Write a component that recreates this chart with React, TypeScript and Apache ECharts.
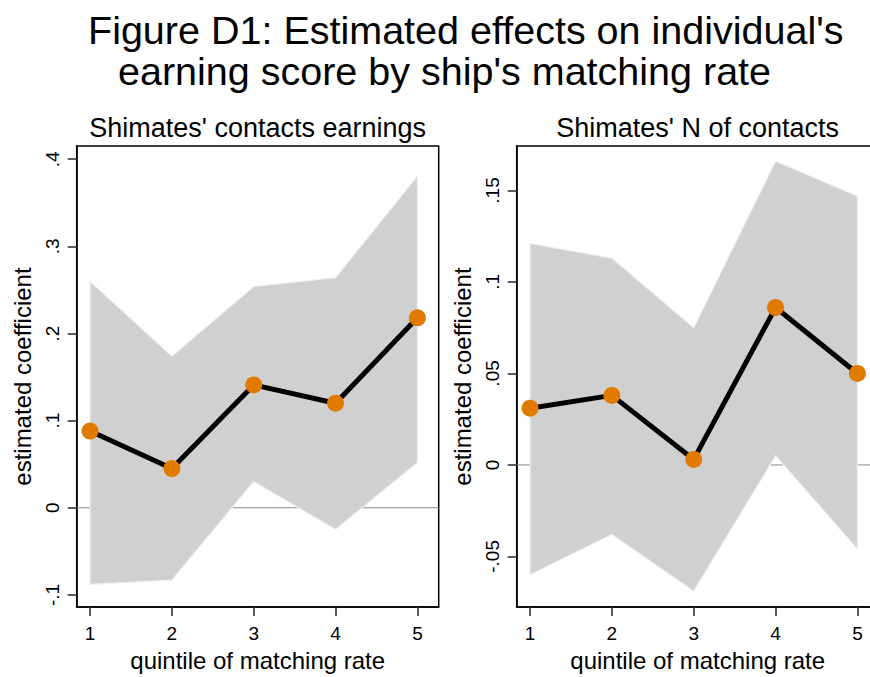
import React, { useEffect, useRef } from "react";
import * as echarts from "echarts";

// ---- data ----
const quintiles = [1, 2, 3, 4, 5];

const earnEstimate = [0.088, 0.045, 0.141, 0.12, 0.218];
const earnLower = [-0.088, -0.083, 0.03, -0.025, 0.052];
const earnUpper = [0.26, 0.174, 0.254, 0.264, 0.381];

const contactsEstimate = [0.031, 0.038, 0.003, 0.086, 0.05];
const contactsLower = [-0.06, -0.038, -0.069, 0.005, -0.046];
const contactsUpper = [0.121, 0.113, 0.075, 0.166, 0.147];

const earnYTicks = [-0.1, 0, 0.1, 0.2, 0.3, 0.4];
const earnYTickLabels = ["-.1", "0", ".1", ".2", ".3", ".4"];
const contactsYTicks = [-0.05, 0, 0.05, 0.1, 0.15];
const contactsYTickLabels = ["-.05", "0", ".05", ".1", ".15"];

const panelTitles = ["Shimates' contacts earnings", "Shimates' N of contacts"];
const titleLines = [
  "Figure D1: Estimated effects on individual's",
  "earning score by ship's matching rate",
];
const xAxisName = "quintile of matching rate";
const yAxisName = "estimated coefficient";

// axis ranges (plot region extents)
const X_MIN = 0.837;
const X_MAX = 5.26;
const earnYRange = [-0.114, 0.4152];
const contactsYRange = [-0.0777, 0.1743];

const FONT = "'Liberation Sans', Arial, Helvetica, sans-serif";
const ORANGE = "#E07B00";
const BAND = "#D0D0D0";
const TICK_COLOR = "#333";

function labelFor(ticks: number[], labels: string[]) {
  return (v: number) => {
    for (let i = 0; i < ticks.length; i++) {
      if (Math.abs(ticks[i] - v) < 1e-9) return labels[i];
    }
    return "";
  };
}

export default function App() {
  const ref = useRef<HTMLDivElement>(null);

  useEffect(() => {
    if (!ref.current) return;
    const chart = echarts.init(ref.current, undefined, { renderer: "svg" });

    const grids = [
      { left: 76.7, top: 146, width: 362, height: 463.3 },
      { left: 516.7, top: 146, width: 362, height: 463.3 },
    ];
    const panels = [
      {
        range: earnYRange,
        ticks: earnYTicks,
        labels: earnYTickLabels,
        est: earnEstimate,
        lo: earnLower,
        hi: earnUpper,
      },
      {
        range: contactsYRange,
        ticks: contactsYTicks,
        labels: contactsYTickLabels,
        est: contactsEstimate,
        lo: contactsLower,
        hi: contactsUpper,
      },
    ];

    const xAxes: any[] = [];
    const yAxes: any[] = [];
    const series: any[] = [];

    panels.forEach((p, i) => {
      xAxes.push({
        gridIndex: i,
        type: "value",
        min: X_MIN,
        max: X_MAX,
        axisLine: { show: true, onZero: false, lineStyle: { color: "#000", width: 1.5 } },
        axisTick: {
          show: true,
          customValues: quintiles,
          length: 9,
          lineStyle: { color: TICK_COLOR, width: 1.6 },
        },
        axisLabel: {
          customValues: quintiles,
          formatter: (v: number) => String(v),
          fontSize: 19,
          color: "#000",
          margin: 17,
          fontFamily: FONT,
        },
        splitLine: { show: false },
        name: xAxisName,
        nameLocation: "middle",
        nameGap: 40,
        nameTextStyle: { fontSize: 24, color: "#000", fontFamily: FONT },
      });
      yAxes.push({
        gridIndex: i,
        type: "value",
        min: p.range[0],
        max: p.range[1],
        axisLine: { show: true, onZero: false, lineStyle: { color: "#000", width: 1.5 } },
        axisTick: {
          show: true,
          customValues: p.ticks,
          length: 9,
          lineStyle: { color: TICK_COLOR, width: 1.6 },
        },
        axisLabel: {
          customValues: p.ticks,
          formatter: labelFor(p.ticks, p.labels),
          rotate: 90,
          fontSize: 19,
          color: "#000",
          margin: 15,
          fontFamily: FONT,
        },
        splitLine: { show: false },
        name: yAxisName,
        nameLocation: "middle",
        nameGap: 42,
        nameTextStyle: { fontSize: 24, color: "#000", fontFamily: FONT },
      });

      // zero reference line
      series.push({
        type: "line",
        xAxisIndex: i,
        yAxisIndex: i,
        data: [
          [X_MIN, 0],
          [X_MAX, 0],
        ],
        symbol: "none",
        silent: true,
        lineStyle: { color: "#8A8A8A", width: 1 },
        z: 1,
      });

      // confidence band
      const lo = p.lo;
      const hi = p.hi;
      series.push({
        type: "custom",
        xAxisIndex: i,
        yAxisIndex: i,
        data: quintiles.map((q, k) => [q, lo[k], hi[k]]),
        encode: { x: 0, y: [1, 2] },
        silent: true,
        z: 2,
        renderItem: (params: any, api: any) => {
          if (params.dataIndex !== 0) return null;
          const pts: number[][] = [];
          for (let k = 0; k < quintiles.length; k++) pts.push(api.coord([quintiles[k], hi[k]]));
          for (let k = quintiles.length - 1; k >= 0; k--) pts.push(api.coord([quintiles[k], lo[k]]));
          return {
            type: "polygon",
            shape: { points: pts },
            style: { fill: BAND, stroke: "#F0F0F0", lineWidth: 1.2 },
          };
        },
      });

      // point estimates
      series.push({
        type: "line",
        xAxisIndex: i,
        yAxisIndex: i,
        data: quintiles.map((q, k) => [q, p.est[k]]),
        symbol: "circle",
        symbolSize: 17,
        showSymbol: true,
        itemStyle: { color: ORANGE, borderWidth: 0 },
        lineStyle: { color: "#000", width: 5 },
        z: 3,
      });
    });

    const graphic: any[] = [
      {
        type: "text",
        x: 88,
        y: 30,
        style: {
          text: titleLines[0],
          font: `39.5px ${FONT}`,
          fill: "#000",
          textAlign: "left",
          textVerticalAlign: "middle",
        },
      },
      {
        type: "text",
        x: 118,
        y: 71,
        style: {
          text: titleLines[1],
          font: `39.5px ${FONT}`,
          fill: "#000",
          textAlign: "left",
          textVerticalAlign: "middle",
        },
      },
    ];
    grids.forEach((g, i) => {
      graphic.push({
        type: "text",
        x: g.left + g.width / 2,
        y: 127.5,
        style: {
          text: panelTitles[i],
          font: `27px ${FONT}`,
          fill: "#000",
          textAlign: "center",
          textVerticalAlign: "middle",
        },
      });
    });

    chart.setOption({
      animation: false,
      backgroundColor: "#fff",
      grid: grids.map((g) => ({
        ...g,
        show: true,
        borderColor: "#000",
        borderWidth: 1.5,
        backgroundColor: "transparent",
      })),
      xAxis: xAxes,
      yAxis: yAxes,
      series,
      graphic,
    });

    return () => chart.dispose();
  }, []);

  return (
    <div
      style={{
        position: "fixed",
        left: 0,
        top: 0,
        width: 870,
        height: 677,
        overflow: "hidden",
        background: "#fff",
      }}
    >
      <div ref={ref} style={{ width: 900, height: 677 }} />
    </div>
  );
}
